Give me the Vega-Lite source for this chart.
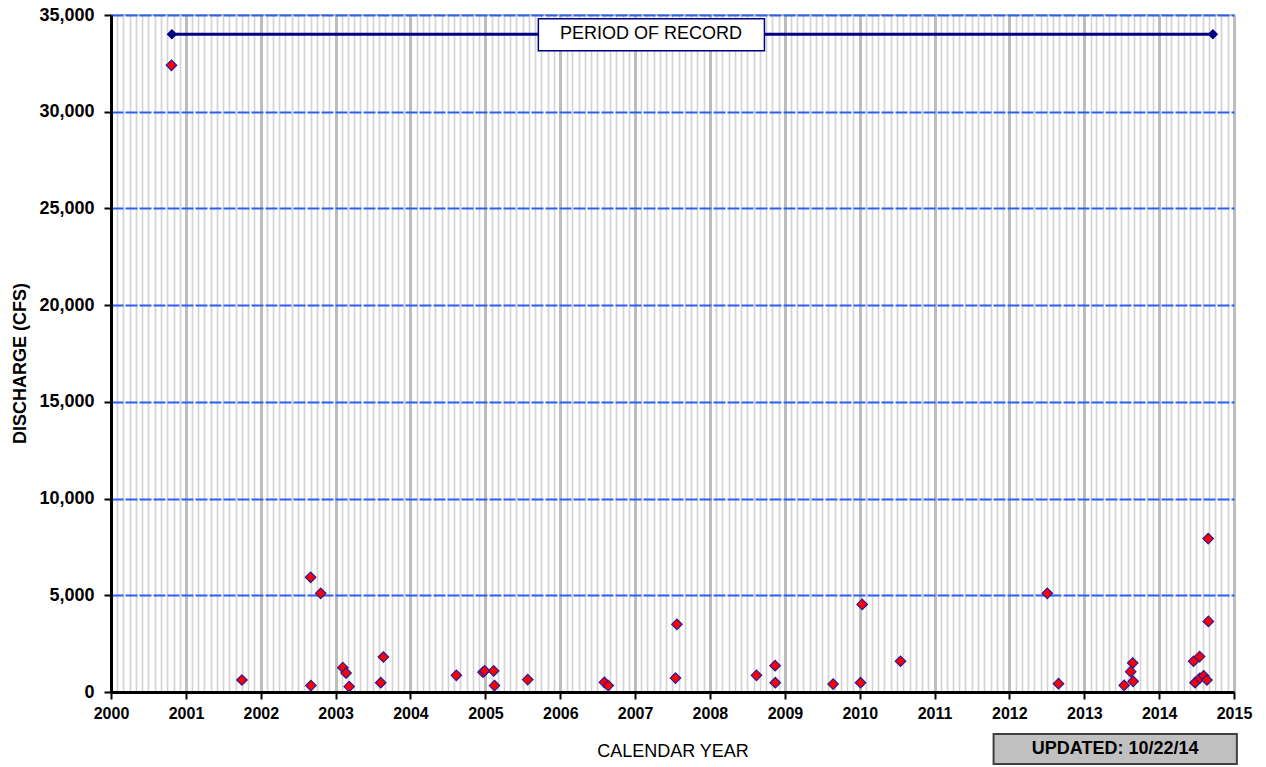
{
  "$schema": "https://vega.github.io/schema/vega-lite/v6.json",
  "autosize": "none",
  "width": 1123,
  "height": 677,
  "padding": {"left": 111, "top": 15, "right": 32, "bottom": 75},
  "background": "white",
  "config": {
    "font": "Liberation Sans",
    "view": {"stroke": "#c0c0c0", "strokeWidth": 2}
  },
  "encoding": {
    "x": {
      "field": "date",
      "type": "temporal",
      "scale": {"type": "utc", "domain": ["2000-01-01", "2015-01-01"], "nice": false},
      "axis": {
        "title": "CALENDAR YEAR",
        "titleFontSize": 18,
        "titleFontWeight": "normal",
        "titleColor": "#000",
        "titlePadding": 21,
        "tickCount": {"interval": "month", "step": 1},
        "labelExpr": "utcmonth(datum.value) === 0 ? utcFormat(datum.value, '%Y') : ''",
        "labelFontSize": 16,
        "labelFontWeight": "bold",
        "labelColor": "#000",
        "labelFlush": false,
        "labelOverlap": false,
        "labelPadding": 6,
        "domainColor": "#000",
        "domainWidth": 3,
        "tickColor": "#000",
        "tickWidth": 2,
        "tickSize": {"condition": {"test": "utcmonth(datum.value) === 0", "value": 7}, "value": 0},
        "grid": true,
        "gridColor": {"condition": {"test": "utcmonth(datum.value) === 0", "value": "#bdbdbd"}, "value": "#d4d4d4"},
        "gridWidth": {"condition": {"test": "utcmonth(datum.value) === 0", "value": 3}, "value": 1.7},
        "gridOpacity": 1
      }
    },
    "y": {
      "field": "cfs",
      "type": "quantitative",
      "scale": {"domain": [0, 35000], "nice": false},
      "axis": {
        "title": "DISCHARGE  (CFS)",
        "titleFontSize": 18,
        "titleFontWeight": "bold",
        "titleColor": "#000",
        "titlePadding": 9,
        "titleY": 348,
        "values": [0, 5000, 10000, 15000, 20000, 25000, 30000, 35000],
        "format": ",.0f",
        "labelFontSize": 18,
        "labelFontWeight": "bold",
        "labelColor": "#000",
        "labelPadding": 10,
        "domainColor": "#000",
        "domainWidth": 3,
        "tickColor": "#000",
        "tickWidth": 2,
        "tickSize": 7,
        "grid": true,
        "gridColor": "#2a5ff2",
        "gridWidth": 2.2,
        "gridDash": [12, 2]
      }
    }
  },
  "layer": [
    {
      "data": {"values": [
        {"date": "2000-10-22", "cfs": 32400},
        {"date": "2001-10-01", "cfs": 620},
        {"date": "2002-09-02", "cfs": 330},
        {"date": "2002-09-01", "cfs": 5930},
        {"date": "2002-10-20", "cfs": 5100},
        {"date": "2003-02-05", "cfs": 1260},
        {"date": "2003-02-21", "cfs": 980},
        {"date": "2003-03-08", "cfs": 280},
        {"date": "2003-08-09", "cfs": 480},
        {"date": "2003-08-22", "cfs": 1810},
        {"date": "2004-08-12", "cfs": 860},
        {"date": "2004-12-20", "cfs": 1020},
        {"date": "2004-12-28", "cfs": 1100},
        {"date": "2005-02-10", "cfs": 1090},
        {"date": "2005-02-14", "cfs": 330},
        {"date": "2005-07-26", "cfs": 640},
        {"date": "2006-08-04", "cfs": 500},
        {"date": "2006-08-23", "cfs": 330},
        {"date": "2007-07-24", "cfs": 3500},
        {"date": "2007-07-17", "cfs": 720},
        {"date": "2008-08-15", "cfs": 860},
        {"date": "2008-11-14", "cfs": 1360},
        {"date": "2008-11-15", "cfs": 480},
        {"date": "2009-08-24", "cfs": 410},
        {"date": "2010-01-05", "cfs": 480},
        {"date": "2010-01-13", "cfs": 4530},
        {"date": "2010-07-19", "cfs": 1590},
        {"date": "2012-07-04", "cfs": 5100},
        {"date": "2012-08-28", "cfs": 430},
        {"date": "2013-07-14", "cfs": 345},
        {"date": "2013-08-25", "cfs": 1500},
        {"date": "2013-08-15", "cfs": 1050},
        {"date": "2013-08-27", "cfs": 550},
        {"date": "2014-06-18", "cfs": 1590},
        {"date": "2014-07-17", "cfs": 1830},
        {"date": "2014-06-25", "cfs": 480},
        {"date": "2014-07-18", "cfs": 710},
        {"date": "2014-08-06", "cfs": 840},
        {"date": "2014-08-22", "cfs": 620},
        {"date": "2014-08-28", "cfs": 7930},
        {"date": "2014-08-29", "cfs": 3650}
      ]},
      "mark": {"type": "point", "shape": "diamond", "size": 110, "filled": true, "fill": "#ff0000", "stroke": "#2a1a9a", "strokeWidth": 1.2, "opacity": 1}
    },
    {
      "data": {"values": [
        {"date": "2000-10-24", "cfs": 34000},
        {"date": "2014-09-20", "cfs": 34000}
      ]},
      "mark": {"type": "line", "color": "#000080", "strokeWidth": 3}
    },
    {
      "data": {"values": [
        {"date": "2000-10-24", "cfs": 34000},
        {"date": "2014-09-20", "cfs": 34000}
      ]},
      "mark": {"type": "point", "shape": "diamond", "size": 110, "filled": true, "color": "#000080", "opacity": 1}
    },
    {
      "data": {"values": [
        {"date": "2005-09-16", "date2": "2008-09-23", "cfs": 33150, "cfs2": 34800}
      ]},
      "mark": {"type": "rect", "fill": "white", "stroke": "#000080", "strokeWidth": 1.5},
      "encoding": {"x2": {"field": "date2"}, "y2": {"field": "cfs2"}}
    },
    {
      "data": {"values": [
        {"date": "2007-03-20", "cfs": 34000, "label": "PERIOD  OF  RECORD"}
      ]},
      "mark": {"type": "text", "fontSize": 18, "color": "#000", "align": "center", "baseline": "middle"},
      "encoding": {"text": {"field": "label"}}
    },
    {
      "data": {"values": [
        {"date": "2011-10-16", "date2": "2015-01-15", "cfs": -2170, "cfs2": -3720}
      ]},
      "mark": {"type": "rect", "fill": "#c0c0c0", "stroke": "#404040", "strokeWidth": 2},
      "encoding": {"x2": {"field": "date2"}, "y2": {"field": "cfs2"}}
    },
    {
      "data": {"values": [
        {"date": "2013-05-31", "cfs": -2950, "label": "UPDATED:  10/22/14"}
      ]},
      "mark": {"type": "text", "fontSize": 18, "fontWeight": "bold", "color": "#000", "align": "center", "baseline": "middle"},
      "encoding": {"text": {"field": "label"}}
    }
  ]
}
